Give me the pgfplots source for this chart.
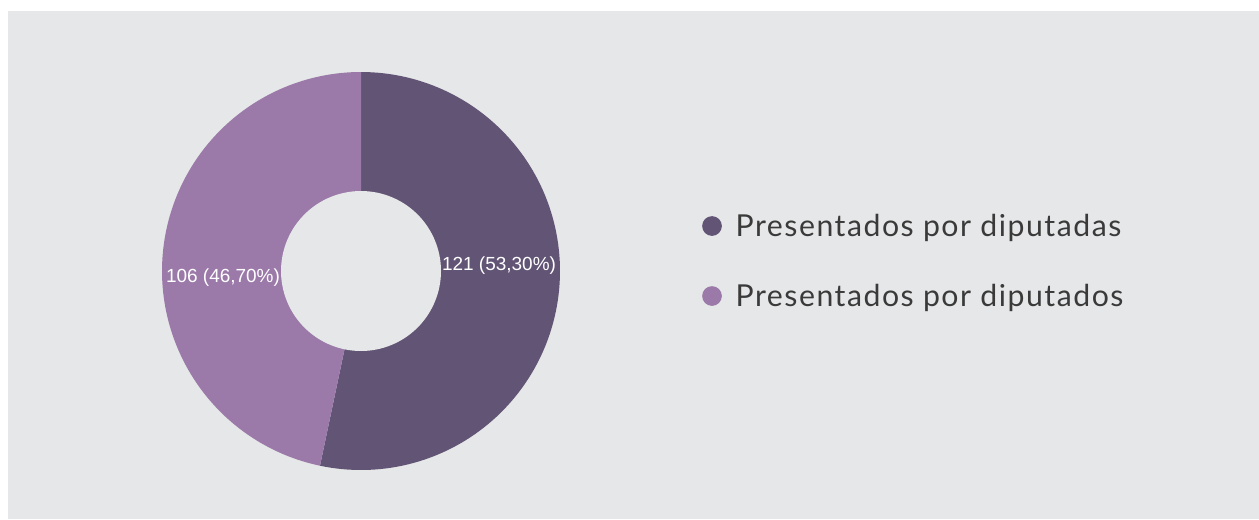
\documentclass[border=0pt]{standalone}
\usepackage{pgfplots}
\pgfplotsset{compat=1.18}
\usepackage{pgfplotstable}
\usepackage{fontspec}
\setmainfont{Lato}
\newfontfamily\arialfont{Liberation Sans}
\definecolor{bgcol}{HTML}{E6E7E8}
\definecolor{darkslice}{HTML}{625475}
\definecolor{lightslice}{HTML}{9B79A9}
\definecolor{txtcol}{HTML}{3A3A3A}

% slice values
\pgfplotstableread{
name value
diputadas 121
diputados 106
}\slices

\begin{document}
\begin{tikzpicture}
\pgfplotstablegetelem{0}{value}\of\slices \let\va\pgfplotsretval
\pgfplotstablegetelem{1}{value}\of\slices \let\vb\pgfplotsretval
\pgfmathsetmacro{\total}{\va+\vb}
\pgfmathsetmacro{\splitang}{90-\va/\total*360}
\begin{axis}[
    width=12.59cm, height=5.19cm,
    scale only axis,
    xmin=0, xmax=1259, ymin=0, ymax=519,
    y dir=reverse,
    hide axis,
    clip=false,
]
% background
\addplot[fill=white, draw=none] coordinates {(0,0) (1259,0) (1259,519) (0,519)} -- cycle;
\addplot[fill=bgcol, draw=none] coordinates {(8,11) (1259,11) (1259,519) (8,519)} -- cycle;
% slices
\addplot[fill=darkslice, draw=none, domain=\splitang:90, samples=120]
    ({361+199*cos(x)}, {271-199*sin(x)}) -- (axis cs:361,271) -- cycle;
\addplot[fill=lightslice, draw=none, domain=90:\splitang+360, samples=120]
    ({361+199*cos(x)}, {271-199*sin(x)}) -- (axis cs:361,271) -- cycle;
% hole
\addplot[fill=bgcol, draw=none, domain=0:360, samples=120]
    ({361+80*cos(x)}, {271-80*sin(x)}) -- cycle;
% labels
\node[text=white, font=\arialfont\fontsize{5.4}{6}\selectfont, anchor=base]
    at (axis cs:499,270) {\va\ (53,30\%)};
\node[text=white, font=\arialfont\fontsize{5.4}{6}\selectfont, anchor=base]
    at (axis cs:223,282) {\vb\ (46,70\%)};
% legend
\addplot[only marks, mark=*, mark size=2.6pt, darkslice] coordinates {(712,226)};
\addplot[only marks, mark=*, mark size=2.6pt, lightslice] coordinates {(712,296)};
\node[text=txtcol, inner sep=0pt, font=\addfontfeature{LetterSpace=5}\fontsize{8.6}{10}\selectfont, anchor=base west]
    at (axis cs:735,236) {Presentados por diputadas};
\node[text=txtcol, inner sep=0pt, font=\addfontfeature{LetterSpace=5}\fontsize{8.6}{10}\selectfont, anchor=base west]
    at (axis cs:735,306) {Presentados por diputados};
\end{axis}
\end{tikzpicture}
\end{document}
